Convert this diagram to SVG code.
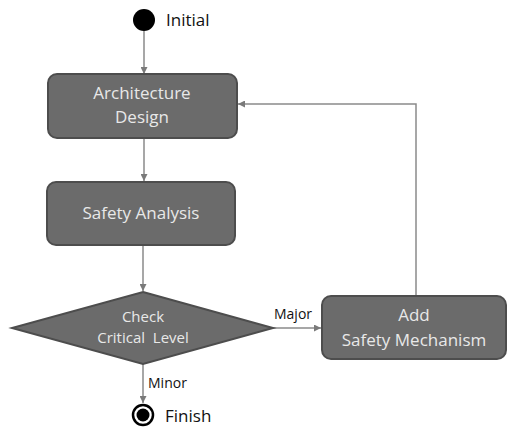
<svg xmlns="http://www.w3.org/2000/svg" width="508" height="428" viewBox="0 0 508 428">
  <style>
    .box { fill: #6b6b6b; stroke: #4d4d4d; stroke-width: 2; }
    .box-text { font-family: "Open Sans", "Noto Sans", sans-serif; font-size: 17px; fill: #e8e8e8; text-anchor: middle; }
    .label { font-family: "Open Sans", "Noto Sans", sans-serif; font-size: 17px; fill: #111; }
    .edge-label { font-family: "Open Sans", "Noto Sans", sans-serif; font-size: 14px; fill: #111; }
    .edge { fill: none; stroke: #8a8a8a; stroke-width: 1.5; marker-end: url(#arrow); }
  </style>
  <defs>
    <marker id="arrow" viewBox="0 0 10 10" refX="10" refY="5" markerWidth="7" markerHeight="7" markerUnits="userSpaceOnUse" orient="auto">
      <path d="M0,0 L10,5 L0,10 z" fill="#7a7a7a"/>
    </marker>
  </defs>
  <rect width="508" height="428" fill="#ffffff"/>

  <g id="connectors">
    <path class="edge" d="M144,31 L144,74"/>
    <path class="edge" d="M144,138 L144,181"/>
    <path class="edge" d="M143,245 L143,291"/>
    <path class="edge" d="M273,328 L321,328"/>
    <path class="edge" d="M143,364 L143,403"/>
    <path class="edge" d="M416,296 L416,104 L238,104"/>
    <text class="edge-label" x="274" y="319">Major</text>
    <text class="edge-label" x="148" y="388">Minor</text>
  </g>

  <g id="initial">
    <circle cx="144" cy="20" r="11" fill="#000"/>
    <text class="label" x="166" y="26">Initial</text>
  </g>

  <g id="architecture-design">
    <rect class="box" x="48" y="74" width="189" height="64" rx="9"/>
    <text class="box-text" x="142" y="99">Architecture</text>
    <text class="box-text" x="142" y="123">Design</text>
  </g>

  <g id="safety-analysis">
    <rect class="box" x="47" y="182" width="188" height="63" rx="9"/>
    <text class="box-text" x="141" y="219">Safety Analysis</text>
  </g>

  <g id="check-critical-level">
    <polygon class="box" points="143,292 273,328 143,364 12,328"/>
    <text class="box-text" x="143" y="322" style="font-size:15px">Check</text>
    <text class="box-text" x="143" y="343" style="font-size:15px" xml:space="preserve">Critical  Level</text>
  </g>

  <g id="add-safety-mechanism">
    <rect class="box" x="322" y="296" width="184" height="63" rx="9"/>
    <text class="box-text" x="414" y="321">Add</text>
    <text class="box-text" x="414" y="346">Safety Mechanism</text>
  </g>

  <g id="finish">
    <circle cx="143" cy="415" r="10" fill="#fff" stroke="#000" stroke-width="2.5"/>
    <circle cx="143" cy="415" r="6.5" fill="#000"/>
    <text class="label" x="165" y="422">Finish</text>
  </g>
</svg>
